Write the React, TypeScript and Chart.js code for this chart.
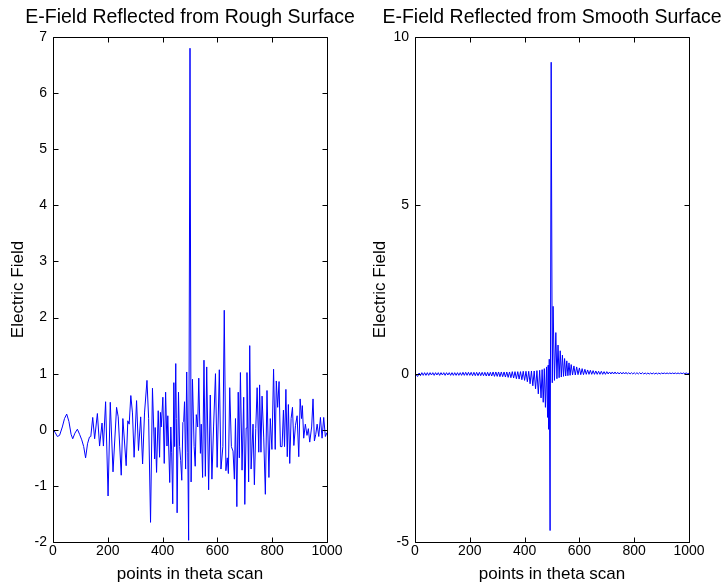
import React, { useEffect, useRef } from "react";
import { Chart, registerables } from "chart.js";

Chart.register(...registerables);

const FONT = "'Liberation Sans', Arial, Helvetica, sans-serif";
Chart.defaults.font.family = FONT;

const TITLE_ROUGH = "E-Field Reflected from Rough Surface";
const TITLE_SMOOTH = "E-Field Reflected from Smooth Surface";
const X_LABEL = "points in theta scan";
const Y_LABEL = "Electric Field";

const X_TICKS = [0, 200, 400, 600, 800, 1000];
const ROUGH_Y_TICKS = [-2, -1, 0, 1, 2, 3, 4, 5, 6, 7];
const SMOOTH_Y_TICKS = [-5, 0, 5, 10];

// [point in theta scan, electric field]
const ROUGH_SAMPLES: [number, number][] = [
  [0, 0.02], [8, -0.05], [16, -0.12], [24, -0.1], [34, 0.05], [42, 0.2], [50, 0.28], [58, 0.15], [66, -0.08], [72, -0.16],
  [80, -0.06], [89, 0.01], [97, -0.08], [105, -0.18], [112, -0.3], [119, -0.5], [126, -0.25], [133, -0.13], [138, -0.12], [145, 0.22],
  [152, -0.16], [162, 0.29], [170, -0.29], [179, 0.12], [184, -0.29], [192, 0.5], [201, -1.18], [209, 0.49], [219, -0.75], [232, 0.4],
  [238, 0.23], [249, -0.81], [255, 0.2], [267, -0.64], [273, 0.16], [278, 0.1], [284, 0.61], [290, 0.3], [296, -0.49], [305, 0.52],
  [312, -0.37], [320, 0.23], [327, -0.61], [334, 0.3], [343, 0.88], [349, 0.2], [356, -1.65], [363, 0.74], [371, -0.52], [373, 0.04],
  [378, -0.76], [384, 0.34], [389, -0.49], [392, 0.31], [395, 0.05], [401, 0.58], [406, -0.6], [411, 0.67], [416, -0.29], [419, 0.25],
  [426, -0.94], [430, 0.05], [433, -0.4], [437, -1.32], [441, 0.84], [444, -0.3], [448, 1.18], [450, 0.2], [453, -1.48], [458, 0.67],
  [462, -0.3], [466, -0.55], [470, -0.9], [474, 0.13], [477, 0.15], [480, 0.5], [484, -0.7], [488, 1.03], [492, -0.4], [495, -1.97],
  [500, 6.8], [504, -0.93], [509, 0.9], [515, -0.3], [519, -0.65], [523, 0.27], [528, 0.05], [532, 0.92], [538, -0.42], [541, 0.1],
  [546, -0.85], [551, 1.24], [556, -0.83], [561, 1.12], [568, -1.07], [574, 0.62], [580, -0.88], [586, 0.05], [593, 1.0], [599, -0.67],
  [607, 1.07], [613, -0.7], [620, -0.3], [625, 2.13], [631, -0.73], [636, -0.5], [640, -0.78], [645, 0.75], [651, -0.3], [657, -0.38],
  [662, -0.88], [666, 0.2], [671, -1.37], [676, 0.67], [680, -0.5], [684, 1.02], [690, -0.72], [696, 0.58], [700, -1.33], [705, 0.03],
  [708, 1.02], [714, -0.93], [718, 1.5], [723, -0.7], [730, 0.1], [735, -0.98], [740, 0.02], [745, 0.75], [751, -0.4], [754, 0.8],
  [759, -0.4], [763, 0.6], [769, -0.13], [775, -1.15], [781, 0.7], [788, -0.85], [793, 0.2], [799, -0.35], [805, 1.08], [811, -0.35],
  [815, 0.87], [820, 0.4], [825, 0.86], [830, -0.3], [836, -0.3], [841, 0.35], [845, -0.3], [850, 0.72], [855, -0.48], [859, 0.45],
  [864, -0.6], [869, 0.2], [874, 0.4], [879, -0.28], [885, 0.08], [891, 0.25], [897, -0.48], [902, 0.55], [907, 0.2], [910, 0.43],
  [915, -0.15], [921, 0.1], [927, -0.1], [932, 0.02], [937, -0.22], [944, 0.05], [949, 0.55], [954, -0.2], [959, -0.08], [964, 0.1],
  [970, -0.12], [976, 0.22], [982, -0.15], [988, 0.22], [994, -0.12], [1000, -0.05],
];

// [point in theta scan, electric field]
const SMOOTH_SAMPLES: [number, number][] = [
  [0, 0.0], [5, -0.05], [10, -0.08], [15, 0.02], [20, -0.06], [25, 0.03], [30, -0.05], [35, 0.03], [40, -0.05], [45, 0.03],
  [50, -0.05], [55, 0.03], [60, -0.04], [65, 0.03], [70, -0.05], [75, 0.03], [80, -0.04], [85, 0.03], [90, -0.05], [95, 0.03],
  [100, -0.04], [105, 0.03], [110, -0.05], [115, 0.03], [120, -0.04], [125, 0.03], [130, -0.05], [135, 0.03], [140, -0.05], [145, 0.03],
  [150, -0.05], [155, 0.03], [160, -0.05], [165, 0.03], [170, -0.05], [175, 0.04], [180, -0.05], [185, 0.04], [190, -0.05], [195, 0.04],
  [200, -0.05], [205, 0.04], [210, -0.06], [215, 0.04], [220, -0.06], [225, 0.04], [230, -0.06], [235, 0.04], [240, -0.06], [245, 0.04],
  [250, -0.06], [255, 0.04], [260, -0.07], [265, 0.04], [270, -0.07], [275, 0.04], [280, -0.07], [285, 0.05], [290, -0.08], [295, 0.05],
  [300, -0.08], [305, 0.05], [310, -0.09], [315, 0.05], [320, -0.09], [325, 0.05], [330, -0.1], [335, 0.05], [340, -0.11], [345, 0.05],
  [350, -0.12], [355, 0.06], [360, -0.13], [365, 0.06], [370, -0.15], [375, 0.06], [380, -0.16], [385, 0.06], [390, -0.18], [395, 0.07],
  [400, -0.2], [405, 0.07], [410, -0.24], [415, 0.07], [420, -0.3], [425, 0.08], [430, -0.36], [435, 0.08], [440, -0.45], [445, 0.09],
  [450, -0.6], [455, 0.1], [460, -0.72], [464, 0.12], [468, -0.85], [472, 0.15], [476, -1.0], [480, 0.2], [484, -1.3], [486, 0.25],
  [488, -1.65], [490, 0.43], [493, -4.66], [497, 9.25], [501, -0.27], [504, 2.0], [509, -0.2], [514, 1.22], [518, -0.15], [522, 0.85],
  [526, -0.12], [530, 0.68], [534, -0.1], [538, 0.55], [542, -0.08], [546, 0.45], [550, -0.07], [554, 0.38], [558, -0.06], [562, 0.32],
  [566, -0.05], [570, 0.27], [575, -0.04], [580, 0.23], [585, -0.04], [590, 0.2], [595, -0.03], [600, 0.17], [605, -0.03], [610, 0.15],
  [615, -0.03], [620, 0.13], [625, -0.02], [630, 0.11], [635, -0.02], [640, 0.1], [645, -0.02], [650, 0.09], [655, -0.02], [660, 0.08],
  [665, -0.02], [670, 0.07], [675, -0.02], [680, 0.07], [685, -0.02], [690, 0.06], [695, -0.02], [700, 0.06], [705, -0.01], [710, 0.05],
  [715, -0.01], [720, 0.05], [725, -0.01], [730, 0.05], [735, -0.01], [740, 0.04], [745, -0.01], [750, 0.04], [755, -0.01], [760, 0.04],
  [765, -0.01], [770, 0.04], [775, -0.01], [780, 0.03], [785, -0.01], [790, 0.03], [795, -0.01], [800, 0.03], [805, -0.01], [810, 0.03],
  [815, -0.01], [820, 0.03], [825, -0.01], [830, 0.03], [835, -0.01], [840, 0.02], [845, -0.01], [850, 0.02], [855, -0.01], [860, 0.02],
  [865, -0.01], [870, 0.02], [875, -0.01], [880, 0.02], [885, -0.01], [890, 0.02], [895, -0.01], [900, 0.02], [905, 0.0], [910, 0.02],
  [915, 0.0], [920, 0.02], [925, 0.0], [930, 0.02], [935, 0.0], [940, 0.02], [945, 0.0], [950, 0.02], [955, 0.0], [960, 0.02],
  [965, 0.0], [970, 0.02], [975, 0.0], [980, 0.02], [985, 0.0], [990, 0.02], [995, 0.0], [1000, 0.01],
];

const TICK_LEN = 5;

const boxPlugin = {
  id: "matlabBox",
  afterDatasetsDraw(chart: any) {
    const { ctx, chartArea } = chart;
    const { left, right, top, bottom } = chartArea;
    const xs = chart.scales.x;
    const ys = chart.scales.y;
    const L = Math.round(left) + 0.5;
    const R = Math.round(right) + 0.5;
    const T = Math.round(top) + 0.5;
    const B = Math.round(bottom) + 0.5;
    ctx.save();
    ctx.strokeStyle = "#000";
    ctx.lineWidth = 1;
    ctx.beginPath();
    ctx.rect(L, T, R - L, B - T);
    xs.ticks.forEach((t: any) => {
      const px = Math.round(xs.getPixelForValue(t.value)) + 0.5;
      ctx.moveTo(px, B);
      ctx.lineTo(px, B - TICK_LEN);
      ctx.moveTo(px, T);
      ctx.lineTo(px, T + TICK_LEN);
    });
    ys.ticks.forEach((t: any) => {
      const py = Math.round(ys.getPixelForValue(t.value)) + 0.5;
      ctx.moveTo(L, py);
      ctx.lineTo(L + TICK_LEN, py);
      ctx.moveTo(R, py);
      ctx.lineTo(R - TICK_LEN, py);
    });
    ctx.stroke();
    ctx.restore();
  },
};

function makeConfig(title: string, samples: [number, number][], yTicks: number[]) {
  return {
    type: "line" as const,
    data: {
      datasets: [
        {
          data: samples.map(([x, y]) => ({ x, y })),
          borderColor: "#0000ff",
          borderWidth: 1,
          pointRadius: 0,
          tension: 0,
          fill: false,
          xAxisID: "x",
          yAxisID: "y",
        },
      ],
    },
    options: {
      responsive: false,
      animation: false as const,
      devicePixelRatio: 1,
      layout: { padding: 0 },
      plugins: {
        legend: { display: false },
        tooltip: { enabled: false },
        title: {
          display: true,
          text: title,
          color: "#000",
          font: { family: FONT, size: 19.5, weight: "normal" as const },
          padding: { top: 6.3, bottom: 7.3 },
        },
      },
      scales: {
        x: {
          type: "linear" as const,
          position: "bottom" as const,
          min: 0,
          max: 1000,
          afterBuildTicks: (s: any) => {
            s.ticks = X_TICKS.map((v) => ({ value: v }));
          },
          grid: { display: false, drawTicks: false },
          border: { display: false },
          ticks: {
            color: "#000",
            font: { family: FONT, size: 14 },
            padding: 1,
            maxRotation: 0,
            autoSkip: false,
            callback: (v: any) => String(v),
          },
          title: {
            display: true,
            text: X_LABEL,
            color: "#000",
            font: { family: FONT, size: 17 },
            padding: { top: 0, bottom: 1.8 },
          },
          afterFit: (s: any) => {
            s.height = 44;
          },
        },
        y: {
          type: "linear" as const,
          position: "left" as const,
          min: yTicks[0],
          max: yTicks[yTicks.length - 1],
          afterBuildTicks: (s: any) => {
            s.ticks = yTicks.map((v) => ({ value: v }));
          },
          grid: { display: false, drawTicks: false },
          border: { display: false },
          ticks: {
            color: "#000",
            font: { family: FONT, size: 14 },
            padding: 6,
            autoSkip: false,
            callback: (v: any) => String(v),
          },
          title: {
            display: true,
            text: Y_LABEL,
            color: "#000",
            font: { family: FONT, size: 17 },
            padding: { top: 7.8, bottom: 0 },
          },
          afterFit: (s: any) => {
            s.width = 53;
          },
        },
        yPad: {
          type: "linear" as const,
          position: "right" as const,
          display: true,
          grid: { display: false, drawTicks: false },
          border: { display: false },
          ticks: { display: false },
          afterFit: (s: any) => {
            s.width = 53;
          },
        },
      },
    },
    plugins: [boxPlugin],
  };
}

export default function App() {
  const leftRef = useRef<HTMLCanvasElement | null>(null);
  const rightRef = useRef<HTMLCanvasElement | null>(null);

  useEffect(() => {
    const c1 = new Chart(leftRef.current as HTMLCanvasElement, makeConfig(TITLE_ROUGH, ROUGH_SAMPLES, ROUGH_Y_TICKS) as any);
    const c2 = new Chart(rightRef.current as HTMLCanvasElement, makeConfig(TITLE_SMOOTH, SMOOTH_SAMPLES, SMOOTH_Y_TICKS) as any);
    return () => {
      c1.destroy();
      c2.destroy();
    };
  }, []);

  return (
    <div
      style={{
        position: "fixed",
        left: 0,
        top: 0,
        width: 725,
        height: 586,
        overflow: "hidden",
        background: "#fff",
      }}
    >
      <canvas ref={leftRef} width={380} height={586} style={{ position: "absolute", left: 0, top: 0, display: "block" }} />
      <canvas ref={rightRef} width={380} height={586} style={{ position: "absolute", left: 362, top: 0, display: "block" }} />
    </div>
  );
}
